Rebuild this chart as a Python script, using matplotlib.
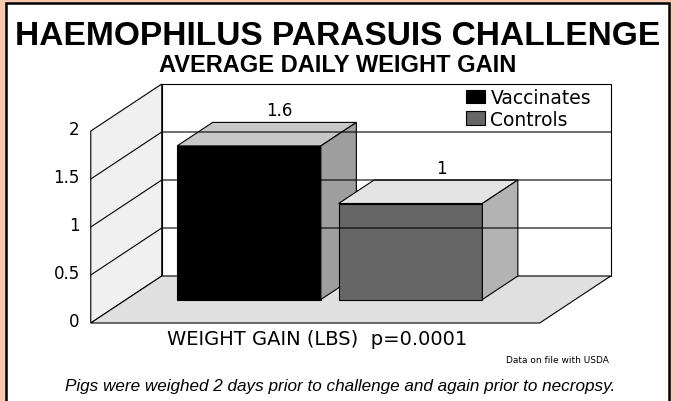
import matplotlib

matplotlib.use("Agg")
import matplotlib.pyplot as plt
import matplotlib.transforms as mtransforms
from matplotlib.font_manager import fontManager
from matplotlib.patches import Patch, Polygon, Rectangle

# datos
groups = ["Vaccinates", "Controls"]
values = [1.6, 1.0]
value_labels = ["1.6", "1"]
y_ticks = [0, 0.5, 1, 1.5, 2]
y_tick_labels = ["0", "0.5", "1", "1.5", "2"]

title = "HAEMOPHILUS PARASUIS CHALLENGE"
subtitle = "AVERAGE DAILY WEIGHT GAIN"
x_label = "WEIGHT GAIN (LBS)  p=0.0001"
source_note = "Data on file with USDA"
footnote = "Pigs were weighed 2 days prior to challenge and again prior to necropsy."

# estilo de las caras (frente, tapa, lateral)
front_colors = ["#000000", "#666666"]
top_colors = ["#c8c8c8", "#e3e3e3"]
side_colors = ["#9e9e9e", "#b3b3b3"]

W, H = 674, 402
PX_X = 161.5  # pixeles por unidad de categoria
PX_Y = 96.0   # pixeles por unidad de valor
X0, Y0 = 213.5, 324.0  # pixel del origen (barra 1, valor 0, profundidad 0)

DX = 71 / PX_X  # desplazamiento en profundidad
DY = 47 / PX_Y
FLOOR_L, FLOOR_R = -0.76, 2.02
BAR_W = 0.89
BAR_D0, BAR_D1 = 0.5, 1.0

installed = {f.name for f in fontManager.ttflist}
narrow = "Liberation Sans Narrow" in installed
head_family = ["Liberation Sans Narrow", "DejaVu Sans"] if narrow else ["Liberation Sans", "DejaVu Sans"]
scale = 1.0 if narrow else 0.86

fig = plt.figure(figsize=(W / 100, H / 100), dpi=100)
fig.patch.set_facecolor("#f8c9ae")
fig.patches.append(Rectangle((5.5 / W, -0.1), (668.5 - 5.5) / W, 1.1 - 3.5 / H,
                             transform=fig.transFigure, facecolor="white",
                             edgecolor="black", linewidth=1.8, zorder=-1))

ax = fig.add_axes([0, 0, 1, 1])
ax.set_xlim(-X0 / PX_X, (W - X0) / PX_X)
ax.set_ylim(-(H - Y0) / PX_Y, Y0 / PX_Y)
ax.axis("off")
ax.patch.set_alpha(0)


def proj(x, y, d):
    return (x + d * DX, y + d * DY)


top = max(y_ticks)
edge = dict(edgecolor="black", linewidth=0.8)

# pared del fondo, pared izquierda y piso
ax.add_patch(Polygon([proj(FLOOR_L, 0, 1), proj(FLOOR_R, 0, 1), proj(FLOOR_R, top, 1),
                      proj(FLOOR_L, top, 1)], facecolor="white", **edge))
ax.add_patch(Polygon([proj(FLOOR_L, 0, 0), proj(FLOOR_L, top, 0), proj(FLOOR_L, top, 1),
                      proj(FLOOR_L, 0, 1)], facecolor="#f0f0f0", **edge))
ax.add_patch(Polygon([proj(FLOOR_L, 0, 0), proj(FLOOR_R, 0, 0), proj(FLOOR_R, 0, 1),
                      proj(FLOOR_L, 0, 1)], facecolor="#e0e0e0", **edge))

for v in y_ticks[1:-1]:
    pts = [proj(FLOOR_L, v, 0), proj(FLOOR_L, v, 1), proj(FLOOR_R, v, 1)]
    ax.plot([p[0] for p in pts], [p[1] for p in pts], color="black", linewidth=0.8)

tick_tf = mtransforms.offset_copy(ax.transData, fig=fig, x=-11, y=2, units="dots")
for v, lab in zip(y_ticks, y_tick_labels):
    ax.text(FLOOR_L, v, lab, transform=tick_tf, ha="right", va="center",
            fontsize=12, family="DejaVu Sans")

# barras 3D
for i, (v, lab) in enumerate(zip(values, value_labels)):
    xl, xr = i - BAR_W / 2, i + BAR_W / 2
    ax.add_patch(Polygon([proj(xl, 0, BAR_D0), proj(xr, 0, BAR_D0), proj(xr, v, BAR_D0),
                          proj(xl, v, BAR_D0)], facecolor=front_colors[i], **edge))
    ax.add_patch(Polygon([proj(xl, v, BAR_D0), proj(xr, v, BAR_D0), proj(xr, v, BAR_D1),
                          proj(xl, v, BAR_D1)], facecolor=top_colors[i], **edge))
    ax.add_patch(Polygon([proj(xr, 0, BAR_D0), proj(xr, 0, BAR_D1), proj(xr, v, BAR_D1),
                          proj(xr, v, BAR_D0)], facecolor=side_colors[i], **edge))
    lx, ly = proj(i, v, BAR_D1)
    ax.text(lx, ly, lab, transform=mtransforms.offset_copy(ax.transData, fig=fig, x=-5, y=3, units="dots"),
            ha="center", va="bottom", fontsize=12, family="DejaVu Sans")

handles = [Patch(facecolor=c, edgecolor="black", linewidth=0.8) for c in front_colors]
ax.legend(handles, groups, loc="upper left", bbox_to_anchor=(466 / W, 1 - 89 / H),
          bbox_transform=fig.transFigure, frameon=False, prop={"family": "DejaVu Sans", "size": 13.5},
          handlelength=1.0, handleheight=0.75, handletextpad=0.3, labelspacing=0.15,
          borderpad=0, borderaxespad=0)

# textos
fig.text(338 / W, 1 - 45 / H, title, ha="center", va="baseline", fontsize=28 * scale,
         fontweight="bold", family=head_family)
fig.text(338 / W, 1 - 72 / H, subtitle, ha="center", va="baseline", fontsize=19.8 * scale,
         fontweight="bold", family=head_family)
fig.text(317 / W, 1 - 345 / H, x_label, ha="center", va="baseline", fontsize=14, family="DejaVu Sans")
fig.text(609 / W, 1 - 363 / H, source_note, ha="right", va="baseline", fontsize=6.5, family="DejaVu Sans")
fig.text(340 / W, 1 - 391 / H, footnote, ha="center", va="baseline", fontsize=14.3 * scale,
         style="italic", family=head_family)

fig.savefig("out.png", dpi=100, facecolor=fig.get_facecolor())
